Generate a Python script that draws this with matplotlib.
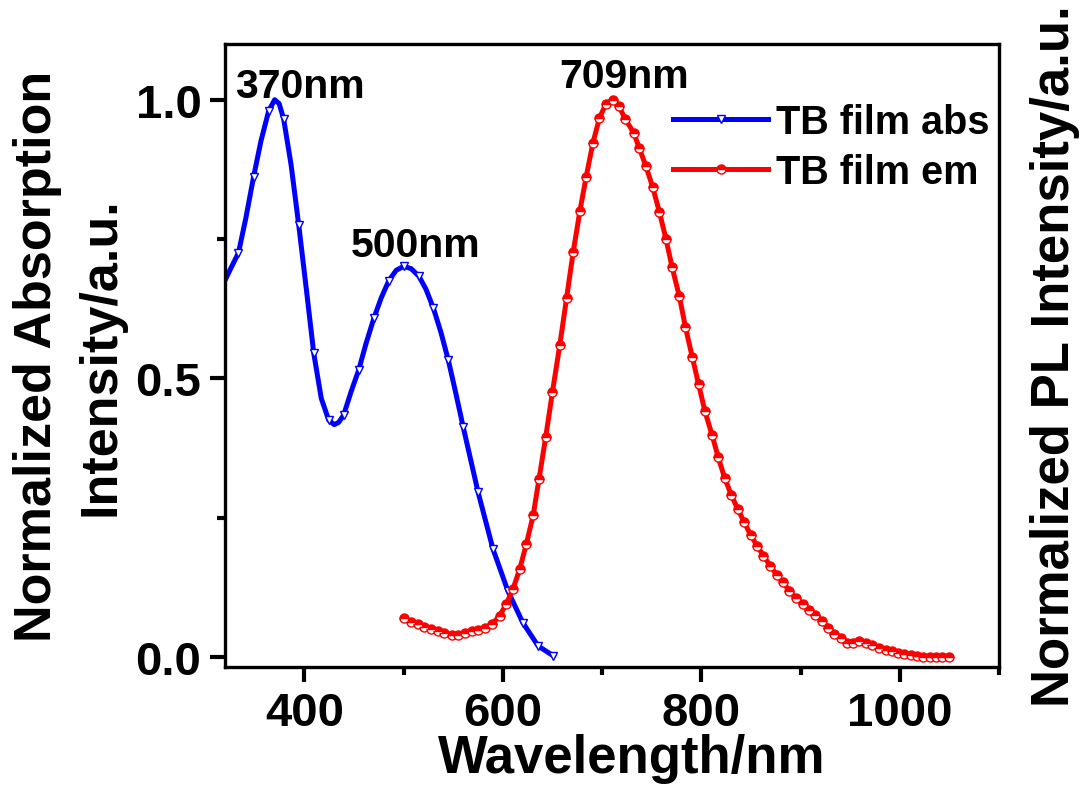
import numpy as np
import matplotlib
matplotlib.use('Agg')
import matplotlib.pyplot as plt
from matplotlib.ticker import MultipleLocator

plt.rcParams['font.family'] = ['Liberation Sans', 'DejaVu Sans']
plt.rcParams['font.weight'] = 'bold'

# absorption spectrum (blue, down triangles)
abs_wl = [320, 326.5, 333.5, 341, 348.7, 356.2, 364, 370, 374.5, 379, 386.5, 394.2, 401.8, 409.4,
          417, 424.5, 430, 434.5, 439.5, 447, 454.7, 462, 470, 477.5, 485, 492.5,
          500, 507.5, 515.5, 522.5, 530, 537.5, 545, 552.5, 560, 575, 590, 605, 620, 635.5, 651]
abs_int = [0.676, 0.70, 0.725, 0.788, 0.861, 0.926, 0.98, 1.0, 0.993, 0.966, 0.884, 0.776, 0.662, 0.545,
           0.464, 0.425, 0.417, 0.421, 0.434, 0.476, 0.515, 0.562, 0.608, 0.645, 0.675, 0.694,
           0.701, 0.697, 0.683, 0.66, 0.626, 0.583, 0.533, 0.474, 0.413, 0.296, 0.194, 0.119, 0.062, 0.020, 0.002]
# points carrying a triangle marker (every ~15 nm)
abs_marked = [333.5, 348.7, 364, 379, 394.2, 409.4, 424.5, 439.5, 454.7, 470, 485, 500, 515.5,
              530, 545, 560, 575, 590, 605, 620, 635.5, 651]

# PL emission spectrum (red, circles)
em_wl = [500.5, 507.3, 514, 520.7, 527.5, 534.3, 541, 548.4, 555.2, 561.9, 568.6, 575.4, 582.2, 589,
         596.7, 603.4, 610.2, 617, 623.7, 630.5, 636.5, 643.2, 650, 657.4, 664.2, 670.9, 677.7,
         684, 690.7, 697.3, 704, 710.6, 717, 723.5, 731.7, 737.4, 744.1, 750.9, 757.7, 764.4,
         770.5, 777.9, 784, 790.8, 797.2, 803.5, 810.9, 817, 823.4, 830.2, 836.6, 843.3, 849.7,
         856.5, 862.6, 869.4, 876.1, 882.5, 888.6, 895.3, 902, 908.1, 914.9, 921.6, 927.7, 934.1,
         940.8, 946.9, 953.3, 959.4, 966.1, 972.2, 978.9, 985.7, 991.8, 998.2, 1004.3, 1011,
         1017.1, 1023.5, 1030.3, 1036.2, 1043, 1049.4]
em_int = [0.070, 0.063, 0.059, 0.054, 0.050, 0.047, 0.043, 0.040, 0.040, 0.043, 0.046, 0.049, 0.053, 0.059,
          0.074, 0.095, 0.122, 0.158, 0.203, 0.254, 0.320, 0.395, 0.476, 0.560, 0.644, 0.727, 0.801,
          0.862, 0.922, 0.967, 0.993, 1.0, 0.988, 0.965, 0.941, 0.914, 0.881, 0.844, 0.799, 0.750,
          0.700, 0.647, 0.592, 0.539, 0.490, 0.442, 0.398, 0.359, 0.322, 0.291, 0.266, 0.242, 0.219,
          0.199, 0.182, 0.164, 0.147, 0.134, 0.119, 0.106, 0.095, 0.085, 0.076, 0.065, 0.053, 0.041,
          0.034, 0.026, 0.026, 0.028, 0.025, 0.022, 0.017, 0.013, 0.010, 0.007, 0.005, 0.004,
          0.002, 0.001, 0.001, 0.0, 0.0, 0.0]

peak_labels = ['370nm', '500nm', '709nm']
peak_pos = [(330, 1.004), (446.6, 0.719), (657, 1.022)]

fig = plt.figure(figsize=(10.83, 8.03), dpi=100)
ax = fig.add_axes([0.2078, 0.168, 0.7146, 0.776])

marks = [i for i, w in enumerate(abs_wl) if w in abs_marked]
ax.plot(abs_wl, abs_int, color='#0000ff', lw=3.6, marker='v', ms=6, mfc='white', mec='#0000ff',
        mew=1, markevery=marks, label='TB film abs')
ax.plot(em_wl, em_int, color='#ff0000', lw=3.6, marker='o', ms=6.5, fillstyle='top', mfc='#ff0000',
        mfcalt='white', mec='#ff0000', mew=1, label='TB film em')

for txt, (x, y) in zip(peak_labels, peak_pos):
    ax.text(x, y, txt, fontsize=29.5, fontweight='bold', ha='left', va='baseline')

ax.set_xlim(320, 1100)
ax.set_ylim(-0.018, 1.1)
ax.xaxis.set_major_locator(MultipleLocator(200))
ax.xaxis.set_minor_locator(MultipleLocator(100))
ax.yaxis.set_major_locator(MultipleLocator(0.5))
ax.yaxis.set_minor_locator(MultipleLocator(0.25))
ax.tick_params(which='major', direction='out', length=11, width=3, labelsize=34, pad=6,
               top=False, right=False)
ax.tick_params(which='minor', direction='out', length=6, width=3, top=False, right=False)
for s in ax.spines.values():
    s.set_linewidth(2.4)

ax.set_xlabel('Wavelength/nm', fontsize=38, fontweight='bold', labelpad=4)
ax.xaxis.set_label_coords(0.526, -0.105)
ax.set_ylabel('Normalized Absorption\nIntensity/a.u.', fontsize=37.5, fontweight='bold',
              linespacing=1.4, labelpad=7)

ax2 = ax.twinx()
ax2.set_ylim(ax.get_ylim())
ax2.set_yticks([])
ax2.set_ylabel('Normalized PL Intensity/a.u.', fontsize=38, fontweight='bold', labelpad=22)

ax.legend(loc='upper left', bbox_to_anchor=(0.579, 0.905), frameon=False, fontsize=28.5,
          handlelength=2.4, handletextpad=0.2, borderpad=0, borderaxespad=0, labelspacing=0.3)

plt.savefig('out.png', dpi=100)
